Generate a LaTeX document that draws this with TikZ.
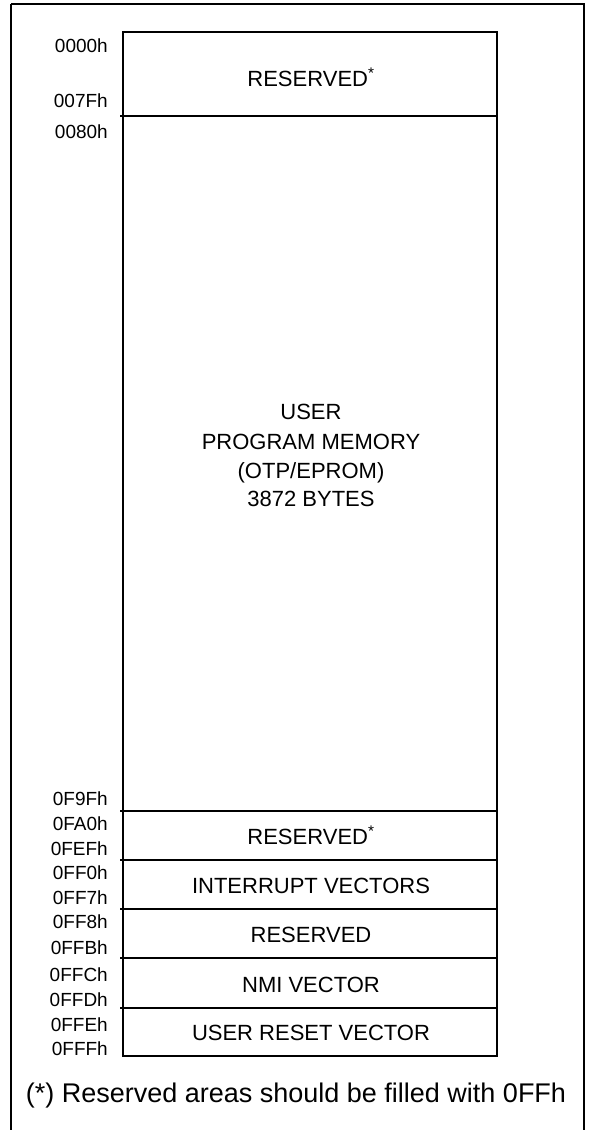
\documentclass[tikz,border=0pt]{standalone}
\usepackage{fontspec}
\setmainfont{Liberation Sans}
\usepackage{tikz}

\begin{document}
\begin{tikzpicture}[x=1pt,y=-1pt]
	\tikzset{addr/.style={anchor=base east,font=\fontsize{19}{19}\selectfont,inner sep=0pt},
		area/.style={anchor=base,font=\fontsize{22}{22}\selectfont,inner sep=0pt},
		rule/.style={line width=2pt}}
	\useasboundingbox (0,0) rectangle (590,1130);
	\draw[rule] (11,4) -- (584,4) -- (584,1140);
	\draw[rule] (11,4) -- (11,1140);
	
	% memory blocks
	\draw[rule] (123,32) rectangle (497,1056);
	\foreach \y in {116,811,860,909,958,1008}
		\draw[rule] (120,\y) -- (497,\y);
	
	\node[area] (res1) at (311,86) {RESERVED\textsuperscript{*}};
	\node[area] (u1) at (311,419) {USER};
	\node[area] (u2) at (311,449) {PROGRAM MEMORY};
	\node[area] (u3) at (311,478) {(OTP/EPROM)};
	\node[area] (u4) at (311,506) {3872 BYTES};
	\node[area] (res2) at (311,844) {RESERVED\textsuperscript{*}};
	\node[area] (irq) at (311,893) {INTERRUPT VECTORS};
	\node[area] (res3) at (311,942) {RESERVED};
	\node[area] (nmi) at (311,992) {NMI VECTOR};
	\node[area] (rst) at (311,1040) {USER RESET VECTOR};
	
	% addresses
	\node[addr] (a1) at (108,52) {0000h};
	\node[addr] (a2) at (108,107) {007Fh};
	\node[addr] (a3) at (108,138) {0080h};
	\node[addr] (a4) at (108,805) {0F9Fh};
	\node[addr] (a5) at (108,830) {0FA0h};
	\node[addr] (a6) at (108,855) {0FEFh};
	\node[addr] (a7) at (108,879) {0FF0h};
	\node[addr] (a8) at (108,904) {0FF7h};
	\node[addr] (a9) at (108,928) {0FF8h};
	\node[addr] (a10) at (108,954) {0FFBh};
	\node[addr] (a11) at (108,981) {0FFCh};
	\node[addr] (a12) at (108,1006) {0FFDh};
	\node[addr] (a13) at (108,1031) {0FFEh};
	\node[addr] (a14) at (108,1055) {0FFFh};
	
	\node[anchor=base,font=\fontsize{27}{27}\selectfont,inner sep=0pt] (note) at (296,1102) {(*) Reserved areas should be filled with 0FFh};
\end{tikzpicture}
\end{document}
